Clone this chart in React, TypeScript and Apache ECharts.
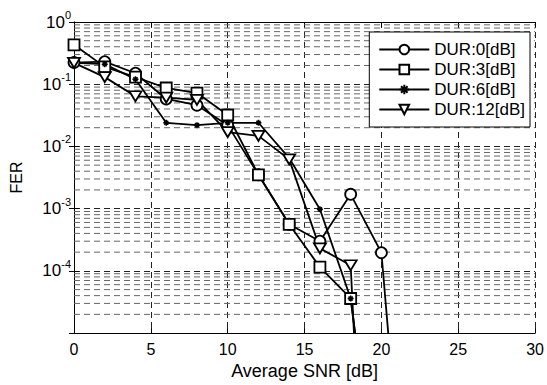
import React, { useEffect, useRef } from "react";
import * as echarts from "echarts";

const snr = [0, 2, 4, 6, 8, 10, 12, 14, 16, 18, 20, 22];
const dur0 = [0.223, 0.23, 0.15, 0.058, 0.046, 0.022, 0.0035, 5.6e-4, 3.0e-4, 1.7e-3, 1.96e-4, 3e-10];
const dur3 = [0.43, 0.19, 0.13, 0.087, 0.072, 0.032, 0.0035, 5.6e-4, 1.15e-4, 3.6e-5, 5e-9];
const dur6 = [0.22, 0.21, 0.12, 0.024, 0.022, 0.024, 0.024, 0.0065, 9.8e-4, 3.6e-5, 5e-9];
const dur12 = [0.22, 0.13, 0.064, 0.061, 0.056, 0.017, 0.0148, 0.0062, 2.3e-4, 1.23e-4, 1e-14];

const seriesNames = ["DUR:0[dB]", "DUR:3[dB]", "DUR:6[dB]", "DUR:12[dB]"];
const xRange = [0, 30];
const minorMultipliers = [2, 3, 4, 5, 6, 7, 8, 9];
const decades = [1e-5, 1e-4, 1e-3, 1e-2, 1e-1];

const FONT = "'Liberation Sans', Arial, sans-serif";
const ASTERISK = "path://M5,0L5,10M0,5L10,5M1.6,1.6L8.4,8.4M1.6,8.4L8.4,1.6";

function pairs(vals: number[]) {
  return vals.map((v, i) => [snr[i], v]);
}

export default function App() {
  const ref = useRef<HTMLDivElement>(null);
  useEffect(() => {
    document.body.style.margin = "0";
    if (!ref.current) return;
    const chart = echarts.init(ref.current, null, { renderer: "svg" });

    const minorData: any[] = [];
    decades.forEach((d) =>
      minorMultipliers.forEach((m) => {
        minorData.push([xRange[0], d * m]);
        minorData.push([xRange[1], d * m]);
        minorData.push([xRange[1], "-"]);
      })
    );

    const data = [dur0, dur3, dur6, dur12];
    const symbols = ["circle", "rect", ASTERISK, "triangle"];
    const series: any[] = data.map((d, i) => ({
      type: "line",
      name: seriesNames[i],
      data: pairs(d),
      symbol: symbols[i],
      symbolSize: i === 2 ? 6 : i === 3 ? [12, 10] : 11,
      symbolRotate: i === 3 ? 180 : 0,
      lineStyle: { color: "#000", width: 1.8 },
      itemStyle:
        i === 2
          ? { color: "#000", borderColor: "#000", borderWidth: 1.5 }
          : { color: "#fff", borderColor: "#000", borderWidth: 1.8 },
      clip: true,
      z: 3,
    }));
    series.unshift({
      type: "line",
      name: "minor-grid",
      silent: true,
      data: minorData,
      symbol: "none",
      connectNulls: false,
      lineStyle: { color: "#666", width: 1, type: [6, 4] },
      z: 1,
    });

    const axisLine = { show: true, lineStyle: { color: "#000", width: 1 } };
    const splitLine = { show: true, lineStyle: { color: "#222", type: [6, 4], width: 1 } };
    const tick = { show: true, inside: true, length: 5, lineStyle: { color: "#000" } };

    chart.setOption({
      animation: false,
      backgroundColor: "#fff",
      textStyle: { fontFamily: FONT, color: "#000" },
      grid: { left: 72, right: 10, top: 22, bottom: 51, containLabel: false },
      legend: {
        orient: "vertical",
        right: 17,
        top: 32,
        padding: [9, 5, 9, 9],
        itemGap: 3,
        itemWidth: 50,
        itemHeight: 12,
        backgroundColor: "#fff",
        borderColor: "#000",
        borderWidth: 1,
        textStyle: { fontSize: 17, color: "#000", fontFamily: FONT, lineHeight: 17 },
        data: seriesNames,
      },
      xAxis: [
        {
          type: "value",
          min: xRange[0],
          max: xRange[1],
          interval: 5,
          name: "Average SNR [dB]",
          nameLocation: "middle",
          nameGap: 27,
          nameTextStyle: { fontSize: 18, color: "#000", fontFamily: FONT },
          axisLine,
          axisTick: tick,
          axisLabel: { fontSize: 16, color: "#000", margin: 8, fontFamily: FONT },
          splitLine,
        },
        {
          type: "value",
          position: "top",
          min: xRange[0],
          max: xRange[1],
          interval: 5,
          axisLine,
          axisTick: tick,
          axisLabel: { show: false },
          splitLine: { show: false },
        },
      ],
      yAxis: [
        {
          type: "log",
          logBase: 10,
          min: 1e-5,
          max: 1,
          splitNumber: 5,
          name: "FER",
          nameLocation: "middle",
          nameGap: 50,
          nameTextStyle: { fontSize: 16, color: "#000", fontFamily: FONT },
          axisLine,
          axisTick: tick,
          axisLabel: {
            margin: 3,
            color: "#000",
            formatter: (v: number) => {
              if (v < 2e-5) return "";
              const e = Math.round(Math.log10(v));
              return "{a|10}{b|" + (e === 0 ? "0" : "-" + Math.abs(e)) + "}";
            },
            rich: {
              a: { fontSize: 17, color: "#000", fontFamily: FONT },
              b: { fontSize: 11, color: "#000", fontFamily: FONT, padding: [0, 0, 14, 0] },
            },
          },
          splitLine,
        },
        {
          type: "log",
          logBase: 10,
          min: 1e-5,
          max: 1,
          splitNumber: 5,
          position: "right",
          axisLine,
          axisTick: tick,
          axisLabel: { show: false },
          splitLine: { show: false },
        },
      ],
      series,
    });
    return () => chart.dispose();
  }, []);
  return <div ref={ref} style={{ width: 547, height: 385 }} />;
}
